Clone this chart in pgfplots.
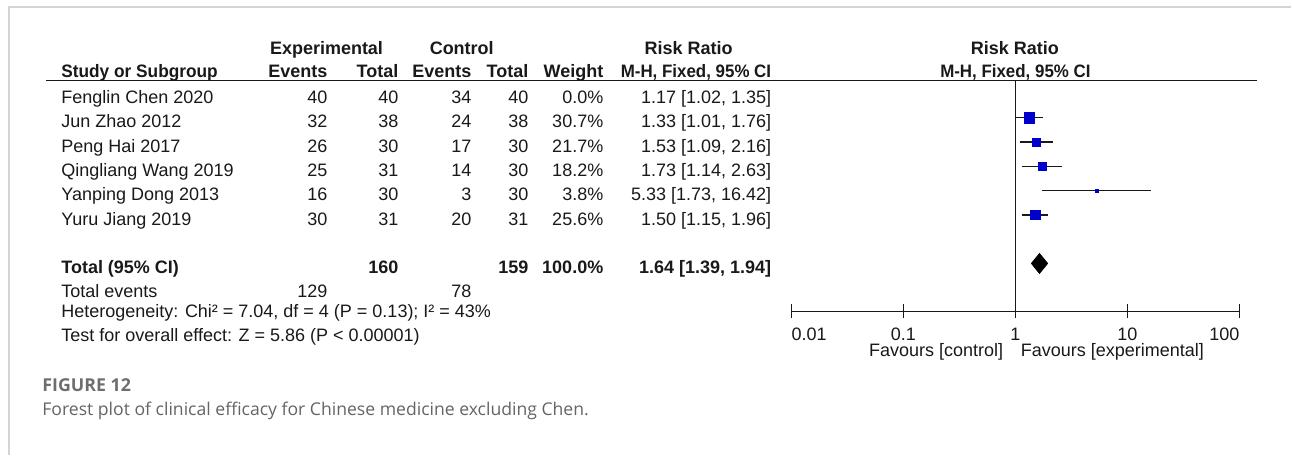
\documentclass[border=0pt]{standalone}
\usepackage{fontspec}
\setmainfont{Liberation Sans}
\newfontfamily\capfont{Open Sans}
\usepackage{pgfplots}
\pgfplotsset{compat=1.18}
\definecolor{rmblue}{RGB}{0,0,204}
\definecolor{capgray}{RGB}{100,100,100}
\definecolor{figgray}{RGB}{110,110,110}
\definecolor{framegray}{RGB}{212,212,212}
\definecolor{ink}{RGB}{25,25,25}
\newcommand{\Lt}[3]{\node[anchor=base west,inner sep=0pt] at (#1,#2) {#3};}
\newcommand{\Rt}[3]{\node[anchor=base east,inner sep=0pt] at (#1,#2) {#3};}
\newcommand{\Ct}[3]{\node[anchor=base,inner sep=0pt] at (#1,#2) {#3};}
\newcommand{\Row}[8]{%
  \Lt{61}{#1}{#2}\Rt{328}{#1}{#3}\Rt{399}{#1}{#4}\Rt{472}{#1}{#5}%
  \Rt{529}{#1}{#6}\Rt{604}{#1}{#7}\Rt{772}{#1}{#8}}
\begin{document}
\begin{tikzpicture}[font=\fontsize{9}{10}\selectfont,text=ink]
\begin{scope}[x=0.5pt,y=-0.5pt]
\path (0,0) rectangle (1292,455);
\draw[framegray,line width=0.75pt] (9,455) -- (9,7) -- (1292,7);
% headers
\begin{scope}[font=\fontsize{9}{10}\selectfont\bfseries]
\Ct{326.7}{55}{Experimental}
\Ct{462}{55}{Control}
\Ct{689}{55}{Risk Ratio}
\Ct{1015.5}{55}{Risk Ratio}
\Lt{61}{77.3}{\scalebox{0.96}[1]{Study or Subgroup}}
\Rt{328}{77.3}{Events}
\Rt{399}{77.3}{Total}
\Rt{472}{77.3}{Events}
\Rt{529}{77.3}{Total}
\Rt{604}{77.3}{Weight}
\Rt{772}{77.3}{\scalebox{0.94}[1]{M-H, Fixed, 95\% CI}}
\Ct{1016}{77.3}{\scalebox{0.94}[1]{M-H, Fixed, 95\% CI}}
\end{scope}
\draw[ink,line width=0.75pt] (46,80.5) -- (1258,80.5);
% study rows
\Row{103.7}{Fenglin Chen 2020}{40}{40}{34}{40}{0.0\%}{1.17 [1.02, 1.35]}
\Row{128.0}{Jun Zhao 2012}{32}{38}{24}{38}{30.7\%}{1.33 [1.01, 1.76]}
\Row{152.3}{Peng Hai 2017}{26}{30}{17}{30}{21.7\%}{1.53 [1.09, 2.16]}
\Row{176.6}{Qingliang Wang 2019}{25}{31}{14}{30}{18.2\%}{1.73 [1.14, 2.63]}
\Row{200.9}{Yanping Dong 2013}{16}{30}{3}{30}{3.8\%}{5.33 [1.73, 16.42]}
\Row{225.2}{Yuru Jiang 2019}{30}{31}{20}{31}{25.6\%}{1.50 [1.15, 1.96]}
\begin{scope}[font=\fontsize{9}{10}\selectfont\bfseries]
\Row{273.8}{Total (95\% CI)}{}{160}{}{159}{100.0\%}{1.64 [1.39, 1.94]}
\end{scope}
\Lt{61}{298.1}{Total events}
\Rt{328}{298.1}{129}
\Rt{472}{298.1}{78}
\Lt{61}{317.5}{Heterogeneity: Chi² = 7.04, df = 4 (P = 0.13); I² = 43\%}
\Lt{61}{342}{Test for overall effect: Z = 5.86 (P < 0.00001)}
\Rt{1004}{357}{Favours [control]}
\Lt{1021}{357}{Favours [experimental]}
% caption
\node[anchor=base west,inner sep=0pt,text=figgray,font=\capfont\bfseries\fontsize{8.9}{10}\selectfont] at (42,392) {FIGURE 12};
\node[anchor=base west,inner sep=0pt,text=capgray,font=\capfont\fontsize{8.8}{10}\selectfont] at (42,416) {Forest plot of clinical efficacy for Chinese medicine excluding Chen.};
\end{scope}
% forest plot
\begin{axis}[at={(396pt,-155.75pt)},anchor=south west,scale only axis,
  width=224pt,height=115.75pt,
  xmode=log,xmin=0.01,xmax=100,ymin=-8.971,ymax=0.5556,
  axis x line=bottom,axis y line=none,
  axis line style={-,ink,line width=0.75pt},
  every outer x axis line/.append style={-},
  xtick={0.01,0.1,1,10,100},
  xticklabels={\makebox[0pt][l]{0.01},0.1,1,10,\makebox[0pt][r]{100}},
  xminorticks=false,tick align=center,major tick length=7pt,
  tick style={ink,line width=0.75pt},
  xticklabel style={anchor=base,yshift=-11.25pt,inner sep=0pt,font=\fontsize{9}{10}\selectfont,text=ink},
  ytick=\empty,clip=false]
\addplot[ink,line width=0.75pt] coordinates {(1,-8.971) (1,0.5556)};
\addplot[ink,line width=0.75pt] coordinates {(1.01,-1) (1.76,-1)};
\addplot[ink,line width=0.75pt] coordinates {(1.09,-2) (2.16,-2)};
\addplot[ink,line width=0.75pt] coordinates {(1.14,-3) (2.63,-3)};
\addplot[ink,line width=0.75pt] coordinates {(1.73,-4) (16.42,-4)};
\addplot[ink,line width=0.75pt] coordinates {(1.15,-5) (1.96,-5)};
\addplot[only marks,mark=square*,mark size=2.7pt,rmblue,mark options={line width=0.2pt}] coordinates {(1.33,-1)};
\addplot[only marks,mark=square*,mark size=2.0pt,rmblue,mark options={line width=0.2pt}] coordinates {(1.53,-2)};
\addplot[only marks,mark=square*,mark size=1.9pt,rmblue,mark options={line width=0.2pt}] coordinates {(1.73,-3)};
\addplot[only marks,mark=square*,mark size=0.8pt,rmblue,mark options={line width=0.2pt}] coordinates {(5.33,-4)};
\addplot[only marks,mark=square*,mark size=2.3pt,rmblue,mark options={line width=0.2pt}] coordinates {(1.50,-5)};
\addplot[fill=black,draw=black] coordinates {(1.39,-7) (1.64,-6.59) (1.94,-7) (1.64,-7.41) (1.39,-7)};
\end{axis}
\end{tikzpicture}
\end{document}
